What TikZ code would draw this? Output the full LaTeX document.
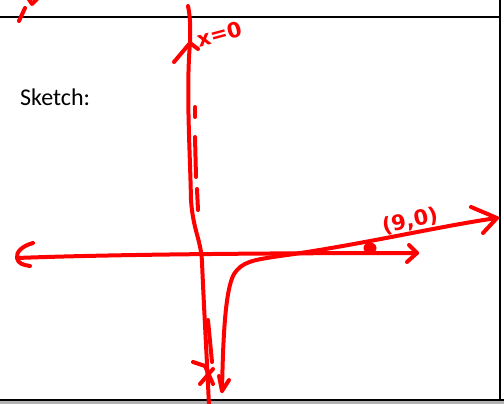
\documentclass[tikz,border=0pt]{standalone}
\usepackage{fontspec}
\setmainfont{Carlito}
\newfontfamily\handfont{DejaVu Sans}
\begin{document}
\begin{tikzpicture}[x=1pt,y=-1pt,
  ink/.style={draw=red,line width=4pt,line cap=round,line join=round},
  frame/.style={draw=black,line width=1.8pt},
  hand/.style={text=red,font=\handfont\bfseries\fontsize{21}{21}\selectfont,inner sep=0pt}]
\useasboundingbox (0,0) rectangle (504,404);
\fill[white] (0,0) rectangle (504,404);
% frame
\draw[frame] (0,17) -- (500,17);
\draw[frame] (500,0) -- (500,404);
\fill[gray!60] (0,401) rectangle (504,404);
\draw[frame] (0,400) -- (504,400);
% label
\node[anchor=base west,inner sep=0pt,font=\fontsize{24}{24}\selectfont] (sk) at (20,106) {Sketch:};
% top-left marks
\begin{scope}
\clip (0,0) rectangle (504,404);
\draw[ink] (19,21) -- (25,8);
\draw[ink] (28,-2) -- (32,4) -- (37,-1);
\end{scope}
% vertical axis
\coordinate (vtop) at (190,43);
\draw[ink] (188,6) .. controls (191,20) and (190,32) .. (vtop);
\draw[ink] (vtop) .. controls (186,90) and (190,150) .. (191,200)
  .. controls (193,230) and (201,240) .. (202,262)
  .. controls (204,310) and (207,360) .. (209,406);
\draw[ink] (174,62) -- (vtop) -- (198,49);
% dashed asymptote marks
\draw[ink] (195,107) -- (195,117);
\draw[ink] (195,137) -- (196,177);
\draw[ink] (197,189) -- (198,210);
\draw[ink] (208,320) -- (212,362);
% bottom cross
\draw[ink] (193,362) -- (205,366) -- (213,384);
\draw[ink] (200,384) -- (213,369);
% horizontal axis
\coordinate (hl) at (17,258);
\coordinate (hr) at (417,253);
\draw[ink] (hl) .. controls (120,254) and (300,253) .. (hr);
\draw[ink] (33,243) .. controls (22,246) and (16,252) .. (hl) .. controls (18,264) and (24,265) .. (30,266);
\draw[ink] (409,245) -- (hr) -- (407,262);
% curve
\coordinate (ct) at (222,391);
\coordinate (cr) at (497,218);
\draw[ink] (ct) .. controls (223,340) and (225,290) .. (234,274)
  .. controls (242,262) and (252,260) .. (280,256)
  .. controls (360,245) and (440,226) .. (cr);
\draw[ink] (229,380) -- (ct) -- (219,376);
\draw[ink] (471,207) -- (cr) -- (483,233);
% point
\fill[red] (370,248) ellipse (6.5pt and 5.5pt);
\node[hand,rotate=12] (pt) at (410,221) {(9,0)};
\node[hand,rotate=15,anchor=west] (xl) at (197,40) {x=0};
\end{tikzpicture}
\end{document}
